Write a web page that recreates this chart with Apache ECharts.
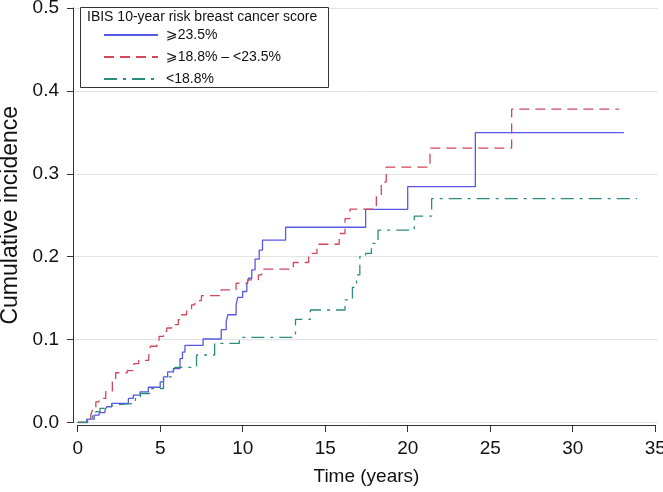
<!DOCTYPE html>
<html><head><meta charset="utf-8">
<script src="https://cdn.jsdelivr.net/npm/echarts@6/dist/echarts.min.js"></script>
<style>html,body{margin:0;padding:0;background:#fff}#c{width:663px;height:492px}</style>
</head><body><div id="c"></div>
<script>
// ---- data ----
const legendTitle = 'IBIS 10-year risk breast cancer score';
const seriesNames = ['\u2A7E23.5%', '\u2A7E18.8% \u2013 <23.5%', '<18.8%'];
const xTickValues = [0, 5, 10, 15, 20, 25, 30, 35];
const yTickValues = [0, 0.1, 0.2, 0.3, 0.4, 0.5];
const xAxisName = 'Time (years)';
const yAxisName = 'Cumulative incidence';

// [time (years), cumulative incidence]
const blueSteps = [[0,0],[0.55,0.004],[1.0,0.009],[1.3,0.012],[1.65,0.015],[1.76,0.019],[2.06,0.023],[3.07,0.029],[3.37,0.033],[3.78,0.037],[4.28,0.0425],[5.0,0.049],[5.2,0.055],[5.45,0.061],[5.8,0.065],[6.2,0.077],[6.35,0.085],[6.5,0.093],[7.6,0.1007],[8.7,0.112],[9.0,0.1216],[9.1,0.13],[9.6,0.142],[9.7,0.151],[10.0,0.158],[10.25,0.166],[10.35,0.174],[10.55,0.184],[10.75,0.197],[11.0,0.208],[11.2,0.22],[12.6,0.2355],[17.45,0.257],[20.0,0.2845],[24.1,0.3496],[33.1,0.3496]];
const redSteps = [[0,0],[0.79,0.009],[0.9,0.015],[1.1,0.025],[1.3,0.029],[1.7,0.038],[2.1,0.049],[2.3,0.06],[3.0,0.0625],[3.4,0.071],[3.7,0.075],[4.3,0.079],[4.4,0.092],[4.8,0.0955],[4.93,0.104],[5.2,0.11],[5.4,0.114],[5.9,0.118],[6.1,0.124],[6.3,0.13],[6.6,0.136],[6.9,0.142],[7.1,0.147],[7.5,0.153],[8.7,0.16],[9.6,0.168],[10.3,0.172],[10.95,0.178],[11.15,0.185],[13.07,0.193],[14.0,0.204],[14.5,0.215],[15.85,0.228],[16.2,0.246],[16.5,0.2575],[18.1,0.274],[18.4,0.29],[18.7,0.308],[21.35,0.331],[26.3,0.378],[32.8,0.378]];
const tealSteps = [[0,0],[0.6,0.005],[0.9,0.009],[1.1,0.013],[1.35,0.017],[1.6,0.019],[1.96,0.021],[2.2,0.023],[3.5,0.031],[3.8,0.035],[4.4,0.041],[5.2,0.051],[5.3,0.055],[5.8,0.063],[5.9,0.0666],[7.2,0.0814],[8.3,0.0955],[9.8,0.1028],[13.2,0.1245],[14.1,0.1357],[16.2,0.148],[16.65,0.163],[16.9,0.178],[17.1,0.2],[17.45,0.204],[17.8,0.216],[18.2,0.232],[20.4,0.249],[21.45,0.27],[33.9,0.27]];

// ---- layout ----
const FONT = '"Liberation Sans", "DejaVu Sans", Arial, sans-serif';
const X0 = 77.7, PX_PER_YEAR = 16.5;
const PLOT_LEFT = 73, PLOT_RIGHT = 658, TOP = 8, BOTTOM = 422.5;
const xMinData = (PLOT_LEFT - X0) / PX_PER_YEAR;
const xMaxData = (PLOT_RIGHT - X0) / PX_PER_YEAR;
const colors = ['#5858e6', '#d2475a', '#2c8c7c'];

const chart = echarts.init(document.getElementById('c'), null, {renderer: 'canvas'});
const mk = (name, data, color, type) => ({
  name, type: 'line', step: 'end', data, xAxisIndex: 0, yAxisIndex: 0,
  showSymbol: false, symbol: 'none', color,
  lineStyle: {color, width: 1.3, type},
  z: 3
});
chart.setOption({
  animation: false,
  backgroundColor: '#fff',
  grid: [
    {left: PLOT_LEFT, top: TOP, width: PLOT_RIGHT - PLOT_LEFT, height: BOTTOM - TOP,
     containLabel: false, outerBoundsMode: 'none'},
    {left: X0, top: TOP, width: PX_PER_YEAR * 35, height: BOTTOM - TOP,
     containLabel: false, outerBoundsMode: 'none'}
  ],
  xAxis: [
    {gridIndex: 0, type: 'value', min: xMinData, max: xMaxData, show: false},
    {gridIndex: 1, type: 'value', min: xTickValues[0], max: xTickValues[xTickValues.length-1], interval: 5,
     position: 'bottom', offset: 2.5,
     axisLine: {show: true, onZero: false, lineStyle: {color: '#333', width: 1}},
     axisTick: {show: true, length: 7, lineStyle: {color: '#333'}},
     axisLabel: {fontFamily: FONT, fontSize: 19, color: '#111', margin: 14},
     splitLine: {show: false},
     name: xAxisName, nameLocation: 'middle', nameGap: 42,
     nameTextStyle: {fontFamily: FONT, fontSize: 19, color: '#111'}}
  ],
  yAxis: [
    {gridIndex: 0, type: 'value', min: 0, max: 0.5, interval: 0.1, position: 'left',
     axisLine: {show: true, onZero: false, lineStyle: {color: '#333', width: 1}},
     axisTick: {show: true, length: 6, lineStyle: {color: '#333'}},
     axisLabel: {fontFamily: FONT, fontSize: 19, color: '#111', margin: 14,
       formatter: v => v.toFixed(1)},
     splitLine: {show: true, lineStyle: {color: '#e4e4e4', width: 1}},
     name: yAxisName, nameLocation: 'middle', nameGap: 46,
     nameTextStyle: {fontFamily: FONT, fontSize: 23, color: '#111'}},
    {gridIndex: 1, type: 'value', min: 0, max: 0.5, show: false}
  ],
  legend: {
    show: true, orient: 'vertical', left: 103, top: 28, padding: 0,
    itemWidth: 54, itemHeight: 14, itemGap: 8, z: 10,
    data: seriesNames,
    itemStyle: {opacity: 0, borderWidth: 0},
    textStyle: {fontFamily: FONT, fontSize: 14, color: '#111', padding: [0,0,0,3]}
  },
  graphic: [
    {type: 'rect', z: 5, shape: {x: 80.5, y: 7.5, width: 248, height: 80},
     style: {fill: '#fff', stroke: '#333', lineWidth: 1}},
    {type: 'text', z: 6, x: 87, y: 17.5,
     style: {text: legendTitle, font: '14px ' + FONT, fill: '#111', verticalAlign: 'middle'}}
  ],
  series: [
    mk(seriesNames[0], blueSteps, colors[0], 'solid'),
    mk(seriesNames[1], redSteps, colors[1], [10, 6]),
    mk(seriesNames[2], tealSteps, colors[2], [13, 6, 3, 6])
  ]
});
</script></body></html>
